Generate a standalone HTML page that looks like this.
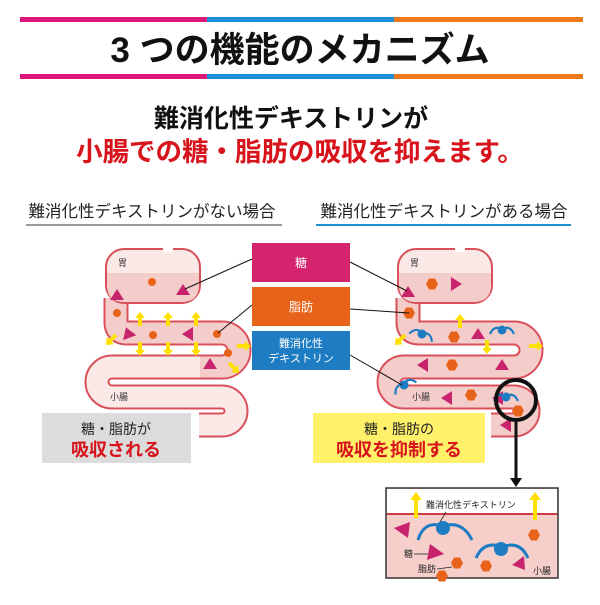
<!DOCTYPE html>
<html><head><meta charset="utf-8"><style>
body{margin:0;background:#fff}
svg text{font-family:"Liberation Sans","Noto Sans CJK JP",sans-serif}
</style></head><body>
<svg width="600" height="600" viewBox="0 0 600 600" xmlns="http://www.w3.org/2000/svg">
<defs>
<g id="tri"><polygon points="0,-6 7,5 -7,5"/></g>
<g id="hex"><polygon points="-6,0 -3,-5.5 3,-5.5 6,0 3,5.5 -3,5.5"/></g>
<g id="dex"><path d="M-12,4 Q-8,-5 0,-1 Q8,-5 12,4" fill="none" stroke="#1e7cc2" stroke-width="2.2"/><circle cx="0" cy="0" r="4.5" fill="#1e7cc2"/></g>
<g id="ua"><polygon points="0,-7 -5,-1 -2,-1 -2,7 2,7 2,-1 5,-1" fill="#ffe000"/></g>
</defs>
<!-- header -->
<rect x="20" y="17" width="187" height="5" fill="#e0187a"/><rect x="207" y="17" width="187" height="5" fill="#1f8fd6"/><rect x="394" y="17" width="189" height="5" fill="#ee7a1c"/>
<rect x="20" y="74" width="187" height="5" fill="#e0187a"/><rect x="207" y="74" width="187" height="5" fill="#1f8fd6"/><rect x="394" y="74" width="189" height="5" fill="#ee7a1c"/>
<text x="300" y="62" text-anchor="middle" font-size="35" font-weight="bold" fill="#111">3 つの機能のメカニズム</text>
<text x="291" y="127" text-anchor="middle" font-size="25" font-weight="bold" fill="#111">難消化性デキストリンが</text>
<text x="300" y="161" text-anchor="middle" font-size="26.5" font-weight="bold" fill="#d7141c">小腸での糖・脂肪の吸収を抑えます。</text>
<text x="152" y="217" text-anchor="middle" font-size="16.5" fill="#222">難消化性デキストリンがない場合</text>
<rect x="26" y="224" width="256" height="2" fill="#999"/>
<text x="444" y="217" text-anchor="middle" font-size="16.5" fill="#222">難消化性デキストリンがある場合</text>
<rect x="316" y="224" width="255" height="2" fill="#1f8fd6"/>

<!-- left intestine -->
<g>
<path d="M116,298 L116,322 Q116,333 127,333 L222,333 A17,17 0 0 1 222,367 L112,367 A15,15 0 0 0 112,397 L222,397 A14,14 0 0 1 222,425 L199,425" fill="none" stroke="#d9505a" stroke-width="25"/>
<path d="M116,298 L116,322 Q116,333 127,333 L222,333 A17,17 0 0 1 222,367 L112,367 A15,15 0 0 0 112,397 L222,397 A14,14 0 0 1 222,425 L199,425" fill="none" stroke="#fbe9e8" stroke-width="21"/>
<path d="M116,298 L116,322 Q116,333 127,333 L222,333 A17,17 0 0 1 222,367 L200,367" fill="none" stroke="#f4cdca" stroke-width="21"/>
<rect x="106" y="249" width="94" height="54" rx="18" fill="#fbe9e8" stroke="#d9505a" stroke-width="2"/>
<path d="M107,273 L199,273 L199,285 Q199,302 181,302 L124,302 Q107,302 107,285Z" fill="#f4cdca"/>
<rect x="163" y="240" width="10" height="12" fill="#fff"/>
<text x="118" y="266" font-size="9" fill="#333">胃</text>
<text x="110" y="400" font-size="9" fill="#333">小腸</text>
<g fill="#e8631a"><circle cx="152" cy="282" r="4"/><circle cx="117" cy="313" r="4"/><circle cx="153" cy="335" r="4"/><circle cx="217" cy="334" r="4"/><circle cx="228" cy="353" r="4"/></g>
<g fill="#c8246e"><use href="#tri" x="117" y="295"/><use href="#tri" x="183" y="290"/><use href="#tri" x="128" y="333" transform="rotate(-20 128 333)"/><use href="#tri" x="188" y="334" transform="rotate(-90 188 334)"/><use href="#tri" x="210" y="364"/></g>
<g><use href="#ua" x="140" y="319"/><use href="#ua" x="168" y="319"/><use href="#ua" x="196" y="319"/>
<use href="#ua" x="140" y="349" transform="rotate(180 140 349)"/><use href="#ua" x="168" y="349" transform="rotate(180 168 349)"/><use href="#ua" x="196" y="349" transform="rotate(180 196 349)"/>
<use href="#ua" x="111" y="340" transform="rotate(-135 111 340)"/><use href="#ua" x="244" y="346" transform="rotate(90 244 346)"/><use href="#ua" x="234" y="368" transform="rotate(135 234 368)"/></g>
</g>
<rect x="42" y="413" width="149" height="50" fill="#dcdcdc"/>
<text x="116" y="434" text-anchor="middle" font-size="14" fill="#222">糖・脂肪が</text>
<text x="116" y="456" text-anchor="middle" font-size="18" font-weight="bold" fill="#d7141c">吸収される</text>

<!-- right intestine -->
<g>
<path d="M408,298 L408,322 Q408,333 419,333 L514,333 A17,17 0 0 1 514,367 L404,367 A15,15 0 0 0 404,397 L514,397 A14,14 0 0 1 514,425 L491,425" fill="none" stroke="#d9505a" stroke-width="25"/>
<path d="M408,298 L408,322 Q408,333 419,333 L514,333 A17,17 0 0 1 514,367 L404,367 A15,15 0 0 0 404,397 L514,397 A14,14 0 0 1 514,425 L491,425" fill="none" stroke="#f4cdca" stroke-width="21"/>
<rect x="398" y="249" width="94" height="54" rx="18" fill="#fbe9e8" stroke="#d9505a" stroke-width="2"/>
<path d="M399,273 L491,273 L491,285 Q491,302 473,302 L416,302 Q399,302 399,285Z" fill="#f4cdca"/>
<rect x="455" y="240" width="10" height="12" fill="#fff"/>
<text x="410" y="266" font-size="9" fill="#333">胃</text>
<text x="412" y="400" font-size="9" fill="#333">小腸</text>
<g fill="#e8631a"><use href="#hex" x="432" y="284"/><use href="#hex" x="409" y="313"/><use href="#hex" x="454" y="337"/><use href="#hex" x="452" y="365"/><use href="#hex" x="471" y="395"/><use href="#hex" x="518" y="411"/></g>
<g fill="#c8246e"><use href="#tri" x="408" y="292"/><use href="#tri" x="456" y="284" transform="rotate(90 456 284)"/><use href="#tri" x="478" y="334"/><use href="#tri" x="423" y="365" transform="rotate(-90 423 365)"/><use href="#tri" x="502" y="365"/><use href="#tri" x="447" y="398" transform="rotate(-90 447 398)"/><use href="#tri" x="498" y="398" transform="rotate(-90 498 398)"/><use href="#tri" x="506" y="425" transform="rotate(-90 506 425)"/></g>
<use href="#dex" x="422" y="334" transform="rotate(20 422 334)"/><use href="#dex" x="502" y="330"/><use href="#dex" x="404" y="385" transform="rotate(-30 404 385)"/><use href="#dex" x="506" y="397"/>
<use href="#ua" x="460" y="321"/><use href="#ua" x="487" y="347" transform="rotate(180 487 347)"/><use href="#ua" x="400" y="340" transform="rotate(-135 400 340)"/><use href="#ua" x="536" y="346" transform="rotate(90 536 346)"/>
<circle cx="516" cy="400" r="20" fill="none" stroke="#111" stroke-width="4"/>
<line x1="516" y1="420" x2="516" y2="480" stroke="#111" stroke-width="3"/>
<polygon points="510,478 522,478 516,487" fill="#111"/>
</g>
<rect x="313" y="413" width="172" height="50" fill="#fff26a"/>
<text x="399" y="434" text-anchor="middle" font-size="14" fill="#222">糖・脂肪の</text>
<text x="399" y="456" text-anchor="middle" font-size="18" font-weight="bold" fill="#d7141c">吸収を抑制する</text>

<!-- connectors & labels -->
<g stroke="#111" stroke-width="1"><line x1="252" y1="259" x2="185" y2="289"/><line x1="252" y1="305" x2="218" y2="333"/>
<line x1="350" y1="262" x2="407" y2="291"/><line x1="350" y1="309" x2="409" y2="313"/><line x1="350" y1="355" x2="402" y2="385"/></g>
<rect x="252" y="243" width="98" height="39" fill="#d4246e"/><text x="301" y="267" text-anchor="middle" font-size="12" fill="#fff">糖</text>
<rect x="252" y="287" width="98" height="39" fill="#e8631a"/><text x="301" y="311" text-anchor="middle" font-size="12" fill="#fff">脂肪</text>
<rect x="252" y="331" width="98" height="39" fill="#1e7cc2"/><text x="301" y="347" text-anchor="middle" font-size="11" fill="#fff">難消化性</text><text x="301" y="362" text-anchor="middle" font-size="11" fill="#fff">デキストリン</text>

<!-- detail box -->
<rect x="386" y="488" width="172" height="90" fill="#f6cfcb" stroke="#333" stroke-width="1.5"/>
<rect x="387" y="489" width="170" height="25" fill="#fff"/>
<rect x="387" y="513" width="170" height="2" fill="#cc3a44"/>
<rect x="414" y="498" width="4" height="20" fill="#ffe000"/><polygon points="410,500 422,500 416,492" fill="#ffe000"/>
<rect x="533" y="498" width="4" height="22" fill="#ffe000"/><polygon points="529,500 541,500 535,492" fill="#ffe000"/>
<text x="426" y="508" font-size="9" fill="#222">難消化性デキストリン</text>
<line x1="446" y1="512" x2="440" y2="522" stroke="#222" stroke-width="0.8"/>
<path d="M418,540 Q424,520 443,526 Q462,520 472,540" fill="none" stroke="#1e7cc2" stroke-width="3"/><circle cx="443" cy="528" r="7" fill="#1e7cc2"/>
<path d="M476,558 Q484,540 502,547 Q520,540 528,558" fill="none" stroke="#1e7cc2" stroke-width="3"/><circle cx="501" cy="549" r="7" fill="#1e7cc2"/>
<g fill="#c8246e"><polygon points="394,528 410,522 408,538"/><polygon points="430,544 444,554 427,560"/><polygon points="512,565 524,556 525,570"/></g>
<g fill="#e8631a"><use href="#hex" x="457" y="563"/><use href="#hex" x="486" y="566"/><use href="#hex" x="534" y="535"/><use href="#hex" x="442" y="576"/></g>
<text x="404" y="557" font-size="9" fill="#222">糖</text><line x1="414" y1="554" x2="428" y2="554" stroke="#222" stroke-width="0.8"/>
<text x="418" y="572" font-size="9" fill="#222">脂肪</text><line x1="437" y1="569" x2="452" y2="567" stroke="#222" stroke-width="0.8"/>
<text x="533" y="574" font-size="9" fill="#222">小腸</text>
</svg>
</body></html>
